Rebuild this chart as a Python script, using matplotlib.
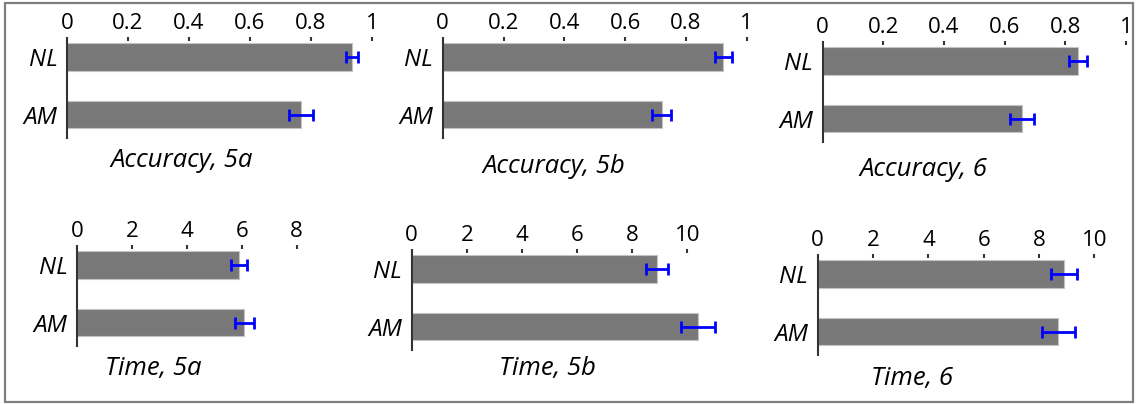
import numpy as np
import matplotlib.pyplot as plt
from matplotlib.patches import Rectangle

plt.rcParams['font.family'] = ['Open Sans', 'DejaVu Sans']

W, H = 1136, 404

groups = ['NL', 'AM']

acc_5a = [0.934, 0.767]
acc_5a_err = [0.02, 0.04]
acc_5b = [0.923, 0.72]
acc_5b_err = [0.027, 0.032]
acc_6 = [0.843, 0.658]
acc_6_err = [0.03, 0.04]

time_5a = [5.91, 6.09]
time_5a_err = [0.3, 0.35]
time_5b = [8.89, 10.4]
time_5b_err = [0.4, 0.62]
time_6 = [8.91, 8.70]
time_6_err = [0.47, 0.61]

acc_ticks = [0, 0.2, 0.4, 0.6, 0.8, 1]
acc_tick_labels = ['0', '0.2', '0.4', '0.6', '0.8', '1']
time_ticks_8 = [0, 2, 4, 6, 8]
time_ticks_10 = [0, 2, 4, 6, 8, 10]

# title, values, errors, ticks, tick labels, (left px, top px, px per unit), (title x, title baseline)
panels = [
    ('Accuracy, 5a', acc_5a, acc_5a_err, acc_ticks, acc_tick_labels, (67, 41, 305), (182, 167)),
    ('Accuracy, 5b', acc_5b, acc_5b_err, acc_ticks, acc_tick_labels, (442.7, 41, 304), (554, 173)),
    ('Accuracy, 6', acc_6, acc_6_err, acc_ticks, acc_tick_labels, (822.7, 45, 303.3), (923, 176)),
    ('Time, 5a', time_5a, time_5a_err, time_ticks_8, [str(t) for t in time_ticks_8], (77.3, 249, 27.4), (153, 375)),
    ('Time, 5b', time_5b, time_5b_err, time_ticks_10, [str(t) for t in time_ticks_10], (411.7, 253, 27.56), (547, 375)),
    ('Time, 6', time_6, time_6_err, time_ticks_10, [str(t) for t in time_ticks_10], (817.7, 258, 27.67), (912, 385)),
]

spacing = 57.5
ylo, yhi = -0.28, 1.4

fig = plt.figure(figsize=(W / 100, H / 100), dpi=100)

# outer frame
fig.patches.append(Rectangle((5 / W, 1 - 402 / H), 1128 / W, 399 / H, transform=fig.transFigure,
                             fill=False, edgecolor='#7f7f7f', linewidth=1.6))

y = np.arange(len(groups))
for title, vals, errs, ticks, labels, (left, top, scale), (tx, ty) in panels:
    width = ticks[-1] * scale
    height = (yhi - ylo) * spacing
    ax = fig.add_axes([left / W, 1 - (top + height) / H, width / W, height / H])
    ax.set_facecolor('none')
    ax.barh(y, vals, height=0.48, color='#787878', edgecolor='#c4c4c4', linewidth=0.8,
            clip_on=False, zorder=2)
    eb = ax.errorbar(vals, y, xerr=errs, fmt='none', ecolor='#0000ff', elinewidth=2,
                     capsize=4, capthick=2, zorder=3)
    # right-hand caps are dark in the original
    for cap in eb[1]:
        if np.mean(cap.get_xdata()) > np.mean(vals):
            cap.set_color('#222222')
    for art in list(eb[1]) + list(eb[2]):
        art.set_clip_on(False)
    ax.set_xlim(0, ticks[-1])
    ax.set_ylim(yhi, ylo)
    ax.xaxis.tick_top()
    ax.set_xticks(ticks)
    ax.set_xticklabels(labels)
    ax.tick_params(axis='x', direction='out', length=3, width=1.5, color='#333333',
                   labelsize=16, pad=2, labelcolor='black')
    ax.set_yticks(y)
    ax.set_yticklabels(groups, fontstyle='italic', fontsize=17.5)
    ax.tick_params(axis='y', length=0, pad=7)
    for s in ['top', 'right', 'bottom']:
        ax.spines[s].set_visible(False)
    ax.spines['left'].set_color('#333333')
    ax.spines['left'].set_linewidth(1.5)
    fig.text(tx / W, 1 - ty / H, title, ha='center', va='baseline', fontsize=18.5, fontstyle='italic')

fig.savefig('out.png', dpi=100)
